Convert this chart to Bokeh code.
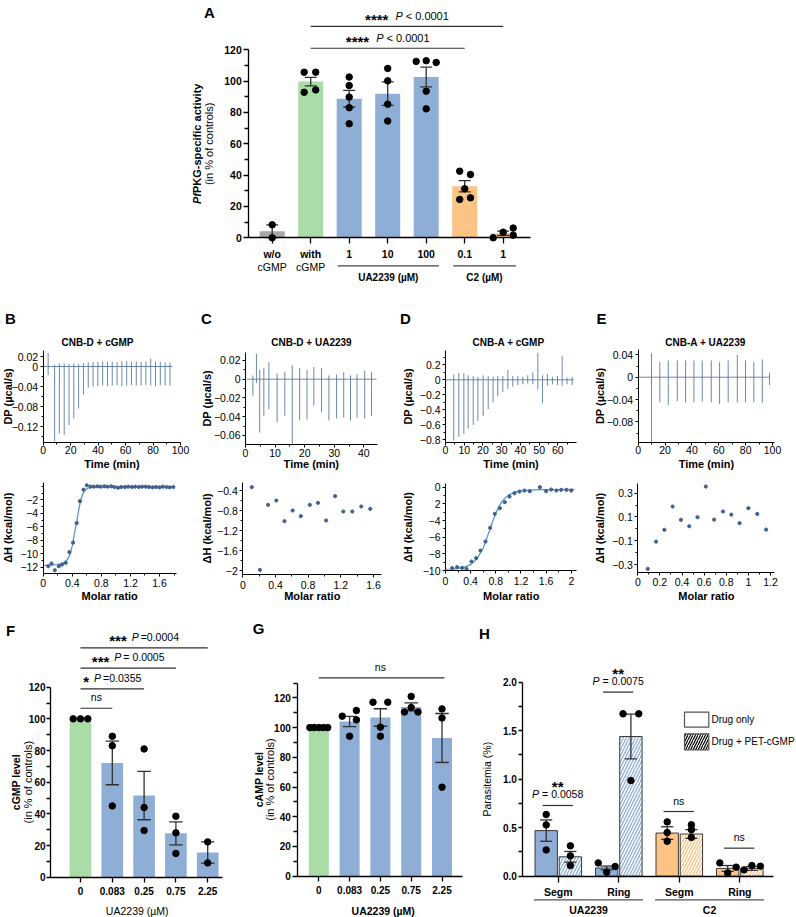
import math
from bokeh.plotting import figure
from bokeh.models import LinearAxis, FixedTicker, Range1d
from bokeh.layouts import column, row
from bokeh.core.properties import value
from bokeh.embed import file_html
from bokeh.resources import INLINE

FONT = "Liberation Sans"
GREY, GREEN, BLUE, ORANGE = "#a7a7a7", "#aadca7", "#8faed6", "#fdc384"
INK = "#303030"
TRACE = "#5a7ba3"
DOT = "#40618f"
FIT = "#4f8fc4"

# ======================= DATA =======================
# ---- Panel A ----
a_labels = ["w/o", "with", "1", "10", "100", "0.1", "1"]
a_sublabels = ["cGMP", "cGMP"]
a_mean = [4.2, 99.7, 88.8, 92.0, 102.6, 32.9, 2.9]
a_sem = [4.1, 2.7, 5.3, 7.5, 6.3, 3.6, 1.4]
a_points = [[8.3, 0.0], [105.7, 105.7, 92.9, 94.4], [102.6, 97.2, 89.8, 83.0, 72.8],
            [108.1, 100.2, 85.3, 74.5], [112.6, 113.0, 111.9, 93.6, 82.3],
            [42.5, 40.4, 24.5, 31.3, 25.5], [0.0, 3.6, 6.2, 1.7]]
a_jitter = [[0, 0], [-0.17, 0.13, -0.17, 0.13], [0, 0, 0, 0, 0], [0, 0, 0, 0],
            [-0.26, 0, 0.26, 0, 0], [-0.13, 0.15, -0.13, 0, 0.15], [-0.26, 0, 0.26, 0.26]]
a_colors = [GREY, GREEN, BLUE, BLUE, BLUE, ORANGE, ORANGE]
a_groups = [("UA2239 (µM)", 2, 4), ("C2 (µM)", 5, 6)]
a_sig = [("****", "< 0.0001", 1, 6, 135.0), ("****", "< 0.0001", 1, 5, 121.0)]
a_yticks = [0, 20, 40, 60, 80, 100, 120]

# ---- ITC thermograms (injection time, upward / downward spike) ----
b_t = [3.6, 8.3, 11.8, 15.3, 18.8, 22.3, 25.8, 29.3, 32.8, 36.3, 39.8, 43.3, 46.8, 50.3,
       53.8, 57.3, 60.8, 64.3, 67.8, 71.3, 74.8, 78.3, 81.8, 85.3, 88.8, 92.3]
b_up = [0.027, 0.004, 0.006, 0.006, 0.005, 0.006, 0.005, 0.007, 0.008, 0.009, 0.009, 0.010, 0.009,
        0.010, 0.009, 0.010, 0.011, 0.009, 0.010, 0.009, 0.010, 0.016, 0.010, 0.009, 0.008, 0.008]
b_down = [-0.017, -0.150, -0.134, -0.137, -0.117, -0.104, -0.084, -0.056, -0.042, -0.040, -0.039,
          -0.038, -0.039, -0.038, -0.037, -0.039, -0.038, -0.037, -0.038, -0.038, -0.037, -0.038,
          -0.039, -0.037, -0.038, -0.038]
b_run = [0.5, 94.0]

c_t = [2.5, 3.7, 4.8, 6.2, 7.9, 10.7, 13.3, 15.8, 18.3, 20.8, 23.1, 25.7, 28.2, 30.8, 33.2,
       35.5, 37.7, 40.3, 42.6]
c_up = [0.004, 0.027, 0.010, 0.012, 0.018, 0.006, 0.008, 0.015, 0.012, 0.010, 0.013, 0.012,
        0.004, 0.005, 0.0075, 0.004, 0.005, 0.009, 0.008]
c_down = [-0.0175, -0.004, -0.057, -0.039, -0.032, -0.046, -0.039, -0.069, -0.044, -0.043,
          -0.028, -0.035, -0.044, -0.042, -0.041, -0.044, -0.041, -0.042, -0.039]
c_run = [0.3, 44.3]

d_t = [4.4, 7.1, 9.8, 12.1, 14.8, 17.3, 20.1, 22.8, 25.4, 27.9, 30.6, 33.3, 35.9, 38.6, 41.3,
       43.9, 46.6, 49.3, 51.8, 54.4, 57.1, 59.8, 62.3, 64.9, 67.6]
d_up = [0.07, 0.09, 0.09, 0.06, 0.05, 0.04, 0.06, 0.05, 0.04, 0.05, 0.05, 0.13, 0.05, 0.05,
        0.04, 0.06, 0.10, 0.36, 0.06, 0.08, 0.04, 0.05, 0.32, 0.03, 0.04]
d_down = [-0.81, -0.76, -0.72, -0.65, -0.60, -0.55, -0.48, -0.39, -0.30, -0.22, -0.16, -0.12,
          -0.09, -0.07, -0.06, -0.05, -0.06, -0.13, -0.31, -0.08, -0.06, -0.07, -0.08, -0.06, -0.07]
d_run = [0.3, 68.5]

e_t = [9.9, 16.1, 22.4, 29.1, 35.3, 41.5, 47.7, 54.4, 60.6, 67.0, 73.8, 79.9, 86.1, 92.4, 97.8]
e_up = [0.043, 0.027, 0.030, 0.030, 0.030, 0.030, 0.030, 0.030, 0.027, 0.030, 0.040, 0.030,
        0.027, 0.032, 0.008]
e_down = [-0.1165, -0.045, -0.050, -0.043, -0.045, -0.045, -0.044, -0.045, -0.048, -0.045,
          -0.045, -0.045, -0.045, -0.046, -0.014]
e_run = [0.5, 98.0]

# ---- ITC integrated heats (molar ratio, ΔH) and fits ----
b_mr = [0.07, 0.115, 0.16, 0.215, 0.26, 0.31, 0.36, 0.41, 0.46, 0.505, 0.555, 0.60, 0.65, 0.695,
        0.745, 0.79, 0.84, 0.885, 0.935, 0.98, 1.03, 1.075, 1.125, 1.17, 1.22, 1.265, 1.315,
        1.36, 1.41, 1.455, 1.505, 1.55, 1.60, 1.645, 1.695, 1.74, 1.79]
b_dh = [-11.85, -11.45, -12.45, -11.85, -11.6, -11.35, -9.75, -8.35, -5.45, -2.2, -0.5, 0.15,
        -0.05, -0.05, 0.0, -0.05, 0.0, -0.05, 0.0, -0.1, -0.2, -0.1, -0.1, -0.05, -0.1, -0.05,
        -0.1, -0.05, -0.05, -0.1, -0.15, -0.1, -0.15, -0.05, -0.1, -0.15, -0.1]
b_fit_x = [0.0, 0.1, 0.2, 0.28, 0.33, 0.37, 0.40, 0.43, 0.46, 0.49, 0.52, 0.55, 0.58, 0.62,
           0.68, 0.8, 1.0, 1.4, 1.8]
b_fit_y = [-11.75, -11.7, -11.6, -11.35, -10.9, -10.1, -8.8, -7.0, -5.3, -3.4, -1.9, -1.0,
           -0.5, -0.25, -0.15, -0.1, -0.08, -0.07, -0.07]

c_mr = [0.11, 0.21, 0.31, 0.41, 0.51, 0.61, 0.71, 0.82, 0.92, 1.02, 1.13, 1.23, 1.34, 1.45, 1.56]
c_dh = [-0.333, -1.987, -0.687, -0.6, -1.013, -0.8, -0.913, -0.687, -0.647, -1.0, -0.513,
        -0.82, -0.82, -0.72, -0.767]

d_mr = [0.106, 0.185, 0.265, 0.334, 0.413, 0.487, 0.556, 0.636, 0.71, 0.784, 0.864, 0.943,
        1.017, 1.097, 1.176, 1.256, 1.34, 1.5, 1.6, 1.68, 1.764, 1.84, 1.923, 2.0]
d_dh = [-9.72, -9.6, -9.68, -9.8, -8.92, -8.52, -7.6, -6.52, -4.88, -3.2, -2.52, -1.8, -1.12,
        -0.72, -0.52, -0.4, -0.48, 0.0, -0.48, -0.28, -0.4, -0.32, -0.32, -0.4]
d_fit_x = [0.0, 0.1, 0.2, 0.3, 0.4, 0.5, 0.6, 0.65, 0.7, 0.75, 0.8, 0.85, 0.9, 0.95, 1.0, 1.1,
           1.2, 1.3, 1.5, 1.7, 2.05]
d_fit_y = [-9.85, -9.82, -9.75, -9.6, -9.3, -8.6, -7.3, -6.3, -5.2, -4.1, -3.1, -2.3, -1.7,
           -1.25, -0.95, -0.6, -0.45, -0.38, -0.3, -0.28, -0.27]

e_mr = [0.09, 0.165, 0.24, 0.315, 0.39, 0.465, 0.54, 0.615, 0.69, 0.77, 0.845, 0.92, 1.0, 1.08, 1.16]
e_dh = [-0.336, -0.107, -0.008, 0.188, 0.076, 0.022, 0.098, 0.356, 0.078, 0.146, 0.12, 0.048,
        0.174, 0.126, -0.006]

# ---- Panel F (cGMP) ----
f_labels = ["0", "0.083", "0.25", "0.75", "2.25"]
f_mean = [100.0, 72.2, 51.6, 27.7, 15.6]
f_sem = [0.0, 13.8, 15.3, 7.3, 6.7]
f_points = [[100, 100, 100], [89, 83, 45], [81, 44, 29.5], [38.5, 28, 15], [22.3, 9]]
f_jitter = [[-0.23, 0, 0.23], [0, 0, 0], [0, 0, 0], [0, 0, 0], [0, 0]]
f_colors = [GREEN, BLUE, BLUE, BLUE, BLUE]
f_sig = [("ns", "", "", 0, 1, 106.7), ("*", "P", "=0.0355", 0, 2, 119.0),
         ("***", "P", "= 0.0005", 0, 3, 132.0), ("***", "P", "=0.0004", 0, 4, 144.8)]

# ---- Panel G (cAMP) ----
g_labels = ["0", "0.083", "0.25", "0.75", "2.25"]
g_mean = [100.0, 104.1, 106.8, 113.9, 93.0]
g_sem = [0.0, 3.5, 5.9, 2.7, 16.5]
g_points = [[100, 100, 100, 100, 100], [107.7, 111.5, 105.2, 94.2], [117.1, 117.1, 100.3, 94.2],
            [121.0, 113.5, 110.5, 110.5], [112.6, 106.5, 59.9]]
g_jitter = [[-0.29, -0.15, 0, 0.15, 0.29], [-0.24, 0.22, 0.22, 0], [-0.24, 0.24, 0, 0],
            [0, 0, -0.22, 0.22], [0, 0, 0]]
g_colors = [GREEN, BLUE, BLUE, BLUE, BLUE]

# ---- Panel H (parasitemia) ----
h_labels = ["Segm", "Ring", "Segm", "Ring"]
h_drugs = [("UA2239", 0, 1), ("C2", 2, 3)]
h_colors = [BLUE, BLUE, ORANGE, ORANGE]
h_only_mean = [0.47, 0.085, 0.445, 0.08]
h_only_sem = [0.11, 0.02, 0.065, 0.03]
h_pet_mean = [0.20, 1.44, 0.435, 0.08]
h_pet_sem = [0.055, 0.23, 0.045, 0.02]
h_only_points = [[0.636, 0.529, 0.271], [0.137, 0.041, 0.100], [0.56, 0.45, 0.36], [0.137, 0.034, 0.093]]
h_only_jitter = [[0, 0, 0], [-0.14, 0, 0.14], [0, 0, 0], [-0.13, 0, 0.14]]
h_pet_points = [[0.313, 0.21, 0.11], [1.674, 1.674, 0.986], [0.53, 0.48, 0.40], [0.065, 0.11, 0.103]]
h_pet_jitter = [[0, 0, 0], [-0.13, 0.13, 0], [0, 0, 0], [-0.13, 0, 0.14]]
h_sig = [("**", "= 0.0058", 0, 0.729), ("**", "= 0.0075", 1, 1.897), ("ns", "", 2, 0.667), ("ns", "", 3, 0.289)]
h_legend = ["Drug only", "Drug + PET-cGMP"]

# ======================= HELPERS =======================
WR = {' ': 278, '*': 389, '<': 584, '=': 584, '.': 278, 'P': 667, 'n': 556, 's': 500, '-': 333, '+': 584}
WB = {' ': 278, '*': 389, '.': 278, 'P': 667, 'f': 333, 'K': 722, 'G': 778, '-': 333, 's': 556,
      'p': 611, 'e': 556, 'c': 556, 'i': 278, 'a': 556, 't': 333, 'v': 556, 'y': 556}
for _d in "0123456789":
    WR[_d] = 556
    WB[_d] = 556


def tw(s, size, bold):
    tab = WB if bold else WR
    return sum(tab.get(ch, 556) for ch in s) * size / 1000.0


class Pan:
    def __init__(self, ox, oy, w, h, xa, pxa, sx, ya, pya, sy):
        self.ox, self.oy, self.sx, self.sy = ox, oy, sx, sy
        self.x0 = xa - (pxa - ox) / sx
        self.y1 = ya + (pya - oy) / sy
        p = figure(width=w, height=h, x_range=Range1d(self.x0, self.x0 + w / sx),
                   y_range=Range1d(self.y1 - h / sy, self.y1),
                   x_axis_location=None, y_axis_location=None, toolbar_location=None, tools="",
                   output_backend="svg", min_border=0, outline_line_color=None)
        p.grid.visible = False
        p.background_fill_color = "white"
        p.border_fill_color = "white"
        self.p = p

    def X(self, px):
        return self.x0 + (px - self.ox) / self.sx

    def Y(self, py):
        return self.y1 - (py - self.oy) / self.sy


def T(pan, x, y, s, size=10.5, style="normal", align="center", baseline="middle",
      angle=0.0, xo=0.0, yo=0.0, color="black"):
    pan.p.text(x=[x], y=[y], text=[s], angle=angle, x_offset=xo, y_offset=yo,
               text_font=value(FONT), text_font_size=value(f"{size}px"),
               text_font_style=style, text_align=align, text_baseline=baseline,
               text_color=color)


def TP(pan, px, py, s, size=10.5, style="normal", **kw):
    T(pan, pan.X(px), pan.Y(py), s, size, style, **kw)


def hrich(pan, x, y, pieces):
    # pieces: (text, size, style, dy, gap)
    ws = [tw(t, s, "bold" in st) + g for t, s, st, dy, g in pieces]
    off = -sum(ws) / 2.0
    for (t, s, st, dy, g), w in zip(pieces, ws):
        T(pan, x, y, t, s, st, align="left", xo=off + g, yo=dy)
        off += w


def vrich(pan, px, py, pieces):
    ws = [tw(t, s, "bold" in st) for t, s, st in pieces]
    tot = sum(ws)
    cum = 0.0
    for (t, s, st), w in zip(pieces, ws):
        T(pan, pan.X(px), pan.Y(py), t, s, st, align="left", angle=math.pi / 2, yo=tot / 2 - cum)
        cum += w


def make_axis(pan, side, loc, bounds, ticks, labels, minor, size, style, tick_out, minor_out,
              standoff, lw=1.0, color="black"):
    ax = LinearAxis(fixed_location=loc, bounds=bounds,
                    ticker=FixedTicker(ticks=list(ticks), minor_ticks=list(minor)))
    ax.major_label_overrides = {t: l for t, l in zip(ticks, labels)}
    ax.major_label_text_font = FONT
    ax.major_label_text_font_size = f"{size}px"
    ax.major_label_text_font_style = style
    ax.major_label_text_color = "black"
    ax.major_label_standoff = standoff
    ax.major_tick_in = 0
    ax.major_tick_out = tick_out
    ax.minor_tick_in = 0
    ax.minor_tick_out = minor_out
    ax.axis_line_color = color
    ax.axis_line_width = lw
    ax.major_tick_line_color = color
    ax.major_tick_line_width = lw
    ax.minor_tick_line_color = color
    ax.minor_tick_line_width = lw
    pan.p.add_layout(ax, side)
    return ax


def errbars(pan, xs, mean, sem, capw, color=INK, lw=1.3):
    xx = [x for x, s in zip(xs, sem) if s > 0]
    lo = [m - s for m, s in zip(mean, sem) if s > 0]
    hi = [m + s for m, s in zip(mean, sem) if s > 0]
    pan.p.segment(x0=xx, y0=lo, x1=xx, y1=hi, line_color=color, line_width=lw)
    pan.p.segment(x0=[x - capw / 2 for x in xx], y0=hi, x1=[x + capw / 2 for x in xx], y1=hi,
                  line_color=color, line_width=lw)
    pan.p.segment(x0=[x - capw / 2 for x in xx], y0=lo, x1=[x + capw / 2 for x in xx], y1=lo,
                  line_color=color, line_width=lw)


def dots(pan, xs, pts, jit, size):
    X, Y = [], []
    for x, vals, js in zip(xs, pts, jit):
        for v, j in zip(vals, js):
            X.append(x + j)
            Y.append(v)
    pan.p.scatter(X, Y, size=size, marker="circle", fill_color="black", line_color="black")


def sigline(pan, x0, x1, y, color=INK, lw=1.2):
    pan.p.segment(x0=[x0], y0=[y], x1=[x1], y1=[y], line_color=color, line_width=lw)


# ======================= PANEL A =======================
A = Pan(0, 0, 796, 300, 0.0, 271.7, 38.5, 0.0, 237.3, 1.5667)
ax_x = list(range(len(a_labels)))
A.p.vbar(x=ax_x, top=a_mean, width=0.65, fill_color=a_colors, line_color=None)
errbars(A, ax_x, a_mean, a_sem, 0.31)
dots(A, ax_x, a_points, a_jitter, 6.5)
make_axis(A, "left", A.X(248.3), (0, 120), a_yticks, [str(v) for v in a_yticks],
          [10, 30, 50, 70, 90, 110], 10.5, "bold", 5, 4, 2, lw=1.3)
make_axis(A, "below", 0, (A.X(248.3), A.X(530)), ax_x, a_labels, [], 10.5, "bold", 6, 0, 4, lw=1.3)
for i, s in enumerate(a_sublabels):
    T(A, ax_x[i], A.Y(266.7), s, 10.5, "normal")
for name, i0, i1 in a_groups:
    sigline(A, i0 - 0.3, i1 + 0.33, A.Y(265.3), color="#444444", lw=1.2)
    T(A, (i0 - 0.3 + i1 + 0.33) / 2, A.Y(277.0), name, 10, "bold")
for stars, ptxt, i0, i1, yv in a_sig:
    sigline(A, i0, i1, yv)
    hrich(A, (i0 + i1) / 2, yv + 6.8, [(stars, 15, "bold", 4, 0), ("P", 11, "italic", 0, 7),
                                       (ptxt, 11, "normal", 0, 3)])
vrich(A, 196, 143.3, [("Pf", 11, "bold italic"), ("PKG-specific activity", 11, "bold")])
TP(A, 208.5, 143.3, "(in % of controls)", 11, "normal", angle=math.pi / 2)
TP(A, 209, 12, "A", 15, "bold")


# ======================= ITC PANELS =======================
def itc_top(ox, w, g, t, up, down, run, yt, yl, ym, xt, xl, xm, letter, letter_px, title, title_px, ylab_px):
    pan = Pan(ox, 300, w, 170, 0.0, g["ax"], g["sx"], 0.0, g["zero"], g["sy"])
    yb, ytp = pan.Y(g["bot"]), pan.Y(g["top"])
    make_axis(pan, "left", 0.0, (yb, ytp), yt, yl, ym, 10.5, "normal", 3, 2, 2)
    make_axis(pan, "below", yb, (0.0, g["xend"]), xt, xl, xm, 10.5, "normal", 3, 2, 1)
    pan.p.line(run, [0.0] * len(run), line_color=TRACE, line_width=0.9)
    pan.p.segment(x0=t, y0=down, x1=t, y1=up, line_color=TRACE, line_width=0.9)
    TP(pan, letter_px, 318, letter, 15, "bold")
    TP(pan, title_px, 342, title, 10, "bold")
    TP(pan, ylab_px, (g["top"] + g["bot"]) / 2, "DP (µcal/s)", 11, "bold", angle=math.pi / 2)
    TP(pan, g["ax"] + g["xend"] * g["sx"] / 2, 463, "Time (min)", 11, "bold")
    return pan


def itc_bot(ox, w, g, mr, dh, fx, fy, yt, yl, ym, xt, xl, xm, ylab_px):
    pan = Pan(ox, 470, w, 145, 0.0, g["ax"], g["sx"], g["yref"], g["yref_px"], g["sy"])
    yb, ytp = pan.Y(g["bot"]), pan.Y(g["top"])
    make_axis(pan, "left", 0.0, (yb, ytp), yt, yl, ym, 10.5, "normal", 3, 2, 2)
    make_axis(pan, "below", yb, (0.0, g["xend"]), xt, xl, xm, 10.5, "normal", 3, 2, 3)
    if fx:
        pan.p.line(fx, fy, line_color=FIT, line_width=1.2)
    pan.p.scatter(mr, dh, size=3.2, marker="circle", fill_color=DOT, line_color=DOT)
    TP(pan, ylab_px, (g["top"] + g["bot"]) / 2, "ΔH (kcal/mol)", 11, "bold", angle=math.pi / 2)
    TP(pan, g["ax"] + g["xend"] * g["sx"] / 2, 595, "Molar ratio", 11, "bold")
    return pan


mr_ticks = [0, 0.4, 0.8, 1.2, 1.6]
mr_labels = ["0", "0.4", "0.8", "1.2", "1.6"]

Bt = itc_top(0, 199, dict(ax=42.7, sx=1.373, zero=366, sy=500, top=350, bot=441.7, xend=100),
             b_t, b_up, b_down, b_run,
             [0.02, 0, -0.04, -0.08, -0.12], ["0.02", "0", "−0.04", "−0.08", "−0.12"],
             [-0.02, -0.06, -0.10, -0.14],
             [0, 20, 40, 60, 80, 100], ["0", "20", "40", "60", "80", "100"], [10, 30, 50, 70, 90],
             "B", 10, "CNB-D + cGMP", 97, 7)
Bb = itc_bot(0, 199, dict(ax=42.7, sx=72.7, yref=-2, yref_px=499.3, sy=6.74, top=481.7, bot=572.7, xend=1.83),
             b_mr, b_dh, b_fit_x, b_fit_y,
             [-2, -4, -6, -8, -10, -12], ["−2", "−4", "−6", "−8", "−10", "−12"], [0, -1, -3, -5, -7, -9, -11],
             mr_ticks, mr_labels, [0.2, 0.6, 1.0, 1.4, 1.8], 7)

Ct = itc_top(199, 199, dict(ax=245, sx=2.958, zero=378.7, sy=937, top=351.7, bot=444, xend=44.5),
             c_t, c_up, c_down, c_run,
             [0.02, 0, -0.02, -0.04, -0.06], ["0.02", "0", "−0.02", "−0.04", "−0.06"],
             [0.01, -0.01, -0.03, -0.05],
             [0, 10, 20, 30, 40], ["0", "10", "20", "30", "40"], [5, 15, 25, 35],
             "C", 206, "CNB-D + UA2239", 311, 206)
Cb = itc_bot(199, 199, dict(ax=242.3, sx=81.7, yref=-0.4, yref_px=490, sy=50, top=481.7, bot=574, xend=1.7),
             c_mr, c_dh, [], [],
             [-0.4, -0.8, -1.2, -1.6, -2.0], ["−0.4", "−0.8", "−1.2", "−1.6", "−2"], [-0.6, -1.0, -1.4, -1.8],
             mr_ticks, mr_labels, [0.2, 0.6, 1.0, 1.4], 206)

Dt = itc_top(398, 192, dict(ax=445, sx=1.873, zero=379.3, sy=75, top=350, bot=441.7, xend=70),
             d_t, d_up, d_down, d_run,
             [0.2, 0, -0.2, -0.4, -0.6, -0.8], ["0.2", "0", "−0.2", "−0.4", "−0.6", "−0.8"],
             [0.3, 0.1, -0.1, -0.3, -0.5, -0.7],
             [0, 10, 20, 30, 40, 50, 60], ["0", "10", "20", "30", "40", "50", "60"],
             [5, 15, 25, 35, 45, 55, 65],
             "D", 405, "CNB-A + cGMP", 508, 407)
Db = itc_bot(398, 192, dict(ax=445, sx=62.9, yref=0, yref_px=486.7, sy=8.33, top=483.3, bot=570, xend=2.09),
             d_mr, d_dh, d_fit_x, d_fit_y,
             [0, -2, -4, -6, -8, -10], ["0", "2", "−4", "−6", "−8", "−10"], [-1, -3, -5, -7, -9],
             [0, 0.4, 0.8, 1.2, 1.6, 2.0], ["0", "0.4", "0.8", "1.2", "1.6", "2"],
             [0.2, 0.6, 1.0, 1.4, 1.8], 407)

Et = itc_top(590, 206, dict(ax=637.7, sx=1.343, zero=376.7, sy=558, top=349, bot=441.7, xend=101.5),
             e_t, e_up, e_down, e_run,
             [0.04, 0, -0.04, -0.08], ["0.04", "0", "−0.04", "−0.08"], [0.02, -0.02, -0.06, -0.10],
             [0, 20, 40, 60, 80, 100], ["0", "20", "40", "60", "80", "100"], [10, 30, 50, 70, 90],
             "E", 601, "CNB-A + UA2239", 705, 599)
Eb = itc_bot(590, 206, dict(ax=637.3, sx=110.6, yref=0.3, yref_px=492.7, sy=118.9, top=483.3, bot=571.7, xend=1.24),
             e_mr, e_dh, [], [],
             [0.3, 0.1, -0.1, -0.3], ["0.3", "0.1", "−0.1", "−0.3"], [0.2, 0.0, -0.2],
             [0, 0.2, 0.4, 0.6, 0.8, 1.0, 1.2], ["0", "0.2", "0.4", "0.6", "0.8", "1", "1.2"],
             [0.1, 0.3, 0.5, 0.7, 0.9, 1.1], 599)

# ======================= PANEL F =======================
F = Pan(0, 615, 248, 302, 0.0, 80, 31.8, 0.0, 876.7, 1.5833)
fx = list(range(len(f_labels)))
F.p.vbar(x=fx, top=f_mean, width=0.68, fill_color=f_colors, line_color=None)
errbars(F, fx, f_mean, f_sem, 0.42)
dots(F, fx, f_points, f_jitter, 6.5)
make_axis(F, "left", F.X(50), (0, 120), a_yticks, [str(v) for v in a_yticks],
          [10, 30, 50, 70, 90, 110], 10, "bold", 4, 4, 1, lw=1.3)
make_axis(F, "below", 0, (F.X(50), F.X(221.7)), fx, f_labels, [], 10, "bold", 5, 0, 5, lw=1.3)
for stars, pt, rest, i0, i1, yv in f_sig:
    sigline(F, i0, i1, yv)
    if pt:
        hrich(F, (i0 + i1) / 2, yv + 7.0, [(stars, 15, "bold", 4, 0), (pt, 10.5, "italic", 0, 5),
                                           (rest, 10.5, "normal", 0, 2)])
    else:
        T(F, (i0 + i1) / 2, yv + 7.0, stars, 10.5, "normal")
TP(F, 136.7, 910, "UA2239 (µM)", 10.5, "normal")
TP(F, 15, 781.7, "cGMP level", 10.5, "bold", angle=math.pi / 2)
TP(F, 27, 781.7, "(in % of controls)", 11, "normal", angle=math.pi / 2)
TP(F, 10, 630, "F", 15, "bold")

# ======================= PANEL G =======================
G = Pan(248, 615, 230, 302, 0.0, 318.3, 30.8, 0.0, 875.7, 1.486)
gx = list(range(len(g_labels)))
G.p.vbar(x=gx, top=g_mean, width=0.65, fill_color=g_colors, line_color=None)
errbars(G, gx, g_mean, g_sem, 0.44)
dots(G, gx, g_points, g_jitter, 6.5)
make_axis(G, "left", G.X(297.3), (0, 130), a_yticks, [str(v) for v in a_yticks],
          [10, 30, 50, 70, 90, 110, 130], 10, "bold", 5, 4, 2, lw=1.3)
make_axis(G, "below", 0, (G.X(297.3), G.X(461.7)), gx, g_labels, [], 10, "bold", 5, 0, 5, lw=1.3)
sigline(G, 0, 4.08, 133.5)
T(G, 2.0, 140.8, "ns", 10.5, "normal")
TP(G, 382.7, 910, "UA2239 (µM)", 10.5, "bold")
TP(G, 258, 779, "cAMP level", 10.5, "bold", angle=math.pi / 2)
TP(G, 269.5, 779, "(in % of controls)", 11, "normal", angle=math.pi / 2)
TP(G, 258, 628, "G", 15, "bold")

# ======================= PANEL H =======================
H = Pan(478, 615, 318, 302, 0.0, 557.8, 60.5, 0.0, 875.7, 97.0)
hx = list(range(len(h_labels)))
x_only = [x - 0.2 for x in hx]
x_pet = [x + 0.2 for x in hx]
H.p.vbar(x=x_only, top=h_only_mean, width=0.37, fill_color=h_colors, line_color="#3a3a3a", line_width=1)
H.p.vbar(x=x_pet, top=h_pet_mean, width=0.37, fill_color="white", line_color="#3a3a3a", line_width=1,
         hatch_pattern="/", hatch_color=h_colors, hatch_scale=6, hatch_weight=1.3)
errbars(H, x_only, h_only_mean, h_only_sem, 0.2)
errbars(H, x_pet, h_pet_mean, h_pet_sem, 0.2)
dots(H, x_only, h_only_points, h_only_jitter, 6.5)
dots(H, x_pet, h_pet_points, h_pet_jitter, 6.5)
make_axis(H, "left", H.X(522.3), (0, 2.0), [0, 0.5, 1.0, 1.5, 2.0], ["0.0", "0.5", "1.0", "1.5", "2.0"],
          [0.25, 0.75, 1.25, 1.75], 10, "bold", 4, 4, 2, lw=1.3)
make_axis(H, "below", 0, (H.X(522.3), H.X(773)), hx, h_labels, [], 10.5, "bold", 6, 0, 4, lw=1.3)
for name, i0, i1 in h_drugs:
    sigline(H, i0 - 0.4, i1 + 0.4, H.Y(899.3), color="#555555", lw=1.2)
    T(H, (i0 + i1) / 2, H.Y(909.5), name, 10.5, "bold")
for stars, rest, gi, yv in h_sig:
    sigline(H, gi - 0.26, gi + 0.24, yv)
    if rest:
        hrich(H, gi - 0.01, yv + 0.235, [(stars, 15, "bold", 4, 0)])
        hrich(H, gi - 0.01, yv + 0.12, [("P", 10.5, "italic", 0, 0), (rest, 10.5, "normal", 0, 3)])
    else:
        T(H, gi - 0.01, yv + 0.113, stars, 10.5, "normal")
# legend
H.p.quad(left=[H.X(684)], right=[H.X(708.3)], top=[H.Y(711.7)], bottom=[H.Y(726.7)],
         fill_color="white", line_color="#555555", line_width=1.2)
H.p.quad(left=[H.X(684)], right=[H.X(708.3)], top=[H.Y(733.3)], bottom=[H.Y(749.3)],
         fill_color="white", line_color="#555555", line_width=1.2,
         hatch_pattern="/", hatch_color="black", hatch_scale=5, hatch_weight=1.2)
TP(H, 711, 719.3, h_legend[0], 10, "normal", align="left")
TP(H, 711, 741.3, h_legend[1], 10, "normal", align="left")
TP(H, 486, 778.7, "Parasitemia (%)", 10.5, "normal", angle=math.pi / 2)
TP(H, 484, 633, "H", 15, "bold")

# ======================= LAYOUT =======================
itc_row = row(column(Bt.p, Bb.p), column(Ct.p, Cb.p), column(Dt.p, Db.p), column(Et.p, Eb.p))
bottom_row = row(F.p, G.p, H.p)
layout = column(A.p, itc_row, bottom_row)

open("out.html", "w").write(file_html(layout, INLINE))
